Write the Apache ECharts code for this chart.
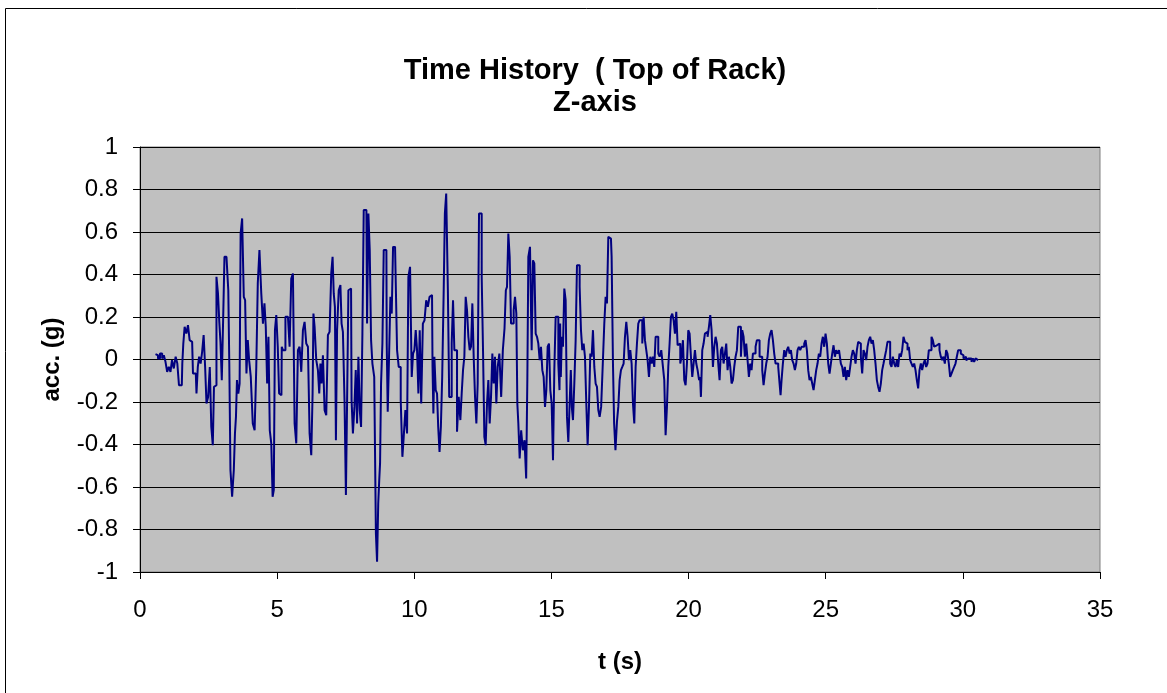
<!DOCTYPE html>
<html>
<head>
<meta charset="utf-8">
<script src="https://cdn.jsdelivr.net/npm/echarts@6/dist/echarts.min.js"></script>
<style>
html,body{margin:0;padding:0;background:#fff;}
#chart{width:1167px;height:693px;}
</style>
</head>
<body>
<div id="chart"></div>
<script>
// Time history readings [t (s), acc (g)]
var seg0to5 = [
[0.565,0.025],[0.625,0.020],[0.686,0.005],[0.771,0.028],[0.844,0.005],[0.893,0.020],[0.966,-0.011],[1.014,-0.058],[1.087,-0.035],[1.136,-0.058],
[1.196,-0.003],[1.269,-0.042],[1.330,0.013],[1.391,-0.019],[1.451,-0.121],[1.524,-0.121],[1.561,-0.019],[1.597,0.075],[1.658,0.154],[1.719,0.122],
[1.779,0.162],[1.840,0.091],[1.901,0.083],[1.962,-0.066],[2.035,-0.066],[2.083,-0.160],[2.132,-0.035],[2.180,0.013],[2.241,-0.019],[2.290,0.036],
[2.350,0.115],[2.399,-0.035],[2.448,-0.207],[2.520,-0.176],[2.569,-0.035],[2.630,-0.317],[2.678,-0.403],[2.715,-0.129],[2.763,-0.121],[2.812,0.389],
[2.873,0.311],[2.909,0.177],[2.958,0.083],[3.006,-0.097],[3.055,0.185],[3.104,0.483],[3.201,0.483],[3.237,0.326],[3.274,-0.019],[3.322,-0.521],
[3.395,-0.646],[3.444,-0.521],[3.480,-0.348],[3.517,-0.270],[3.553,-0.097],[3.614,-0.160],[3.650,-0.113],[3.687,0.593],[3.760,0.664],[3.808,0.295],
[3.857,0.279],[3.905,-0.066],[3.954,0.091],[4.003,-0.003],[4.075,-0.082],[4.148,-0.301],[4.209,-0.333],[4.270,-0.035],[4.318,0.358],[4.391,0.515],
[4.452,0.311],[4.513,0.169],[4.561,0.264],[4.610,0.154],[4.659,-0.113],[4.707,0.107],[4.756,-0.333],[4.816,-0.395],[4.853,-0.646],[4.902,-0.615],
[4.938,0.138],[4.999,0.209],[5.047,0.060],[5.096,-0.160]
];
var seg5to10 = [
[5.156,-0.168],[5.181,0.060],[5.241,0.044],[5.363,0.201],[5.424,0.201],[5.484,0.060],[5.545,0.381],[5.606,0.405],[5.667,-0.301],[5.727,-0.395],
[5.788,0.044],[5.849,0.060],[5.910,-0.058],[5.970,0.138],[6.031,0.177],[6.092,0.075],[6.153,0.060],[6.213,-0.348],[6.274,-0.450],[6.311,-0.160],
[6.335,0.216],[6.396,0.154],[6.456,-0.003],[6.517,-0.050],[6.553,-0.160],[6.602,-0.019],[6.639,-0.113],[6.699,0.020],[6.760,-0.238],[6.821,-0.262],
[6.881,0.115],[6.942,0.130],[7.003,0.405],[7.039,0.483],[7.088,0.311],[7.124,0.248],[7.161,-0.380],[7.209,0.138],[7.282,0.326],[7.331,0.350],
[7.367,0.169],[7.428,0.130],[7.489,-0.207],[7.525,-0.638],[7.574,-0.207],[7.622,0.326],[7.695,0.334],[7.732,-0.191],[7.793,-0.348],[7.841,-0.223],
[7.890,-0.050],[7.938,-0.301],[7.987,0.013],[8.036,-0.238],[8.084,-0.317],[8.133,0.122],[8.181,0.703],[8.254,0.703],[8.303,0.169],[8.351,0.687],
[8.400,0.515],[8.449,0.091],[8.497,-0.019],[8.582,-0.082],[8.619,-0.819],[8.667,-0.952],[8.704,-0.678],[8.740,-0.568],[8.764,-0.489],[8.813,-0.113],
[8.862,0.075],[8.910,0.515],[8.983,0.515],[9.007,0.075],[9.056,-0.246],[9.105,0.013],[9.153,0.295],[9.202,0.216],[9.250,0.530],[9.348,0.530],
[9.396,0.044],[9.469,-0.035],[9.542,-0.191],[9.590,-0.458],[9.639,-0.364],[9.712,-0.238],[9.761,-0.348],[9.809,0.389],[9.882,0.436],[9.931,-0.082],
[9.979,0.028],[10.028,0.044],[10.076,0.138],[10.125,0.044],[10.174,-0.160]
];
var seg10to15 = [
[10.222,0.138],[10.283,-0.207],[10.343,0.169],[10.404,0.185],[10.465,0.279],[10.526,0.248],[10.586,0.295],[10.647,0.303],[10.684,-0.035],[10.708,-0.254],
[10.757,0.013],[10.805,-0.144],[10.854,-0.160],[10.890,-0.317],[10.951,-0.435],[10.987,-0.317],[11.048,-0.082],[11.097,0.326],[11.133,0.687],[11.194,0.781],
[11.255,0.326],[11.291,-0.176],[11.340,-0.176],[11.388,0.075],[11.437,0.279],[11.485,0.044],[11.534,0.044],[11.583,-0.340],[11.655,-0.176],[11.704,-0.285],
[11.753,-0.160],[11.801,-0.050],[11.850,0.013],[11.898,0.295],[11.947,0.232],[11.996,0.107],[12.044,0.044],[12.093,0.060],[12.141,0.264],[12.190,0.013],
[12.239,-0.176],[12.287,-0.301],[12.336,-0.113],[12.384,0.687],[12.433,0.687],[12.482,0.389],[12.530,0.044],[12.579,-0.364],[12.627,-0.403],[12.676,-0.207],
[12.724,-0.097],[12.773,-0.301],[12.822,-0.176],[12.870,0.028],[12.919,-0.113],[12.967,0.013],[13.016,-0.207],[13.065,-0.035],[13.138,0.028],[13.198,-0.176],
[13.259,0.044],[13.320,0.146],[13.356,0.326],[13.405,0.342],[13.453,0.593],[13.502,0.483],[13.551,0.169],[13.599,0.169],[13.648,0.232],[13.696,0.295],
[13.745,0.216],[13.769,-0.207],[13.818,-0.301],[13.866,-0.466],[13.927,-0.333],[13.988,-0.427],[14.049,-0.380],[14.109,-0.560],[14.134,-0.097],[14.182,0.483],
[14.255,0.530],[14.304,0.044],[14.352,0.467],[14.401,0.452],[14.450,0.122],[14.498,0.107],[14.547,0.075],[14.595,-0.003],[14.644,0.060],[14.692,-0.050],
[14.741,-0.082],[14.790,-0.223],[14.838,-0.144],[14.887,0.060],[14.935,0.075],[14.984,-0.144],[15.033,-0.207],[15.081,-0.474],[15.130,-0.050],[15.178,0.201],
[15.227,0.201],[15.276,-0.019],[15.312,-0.144]
];
var seg15to20 = [
[15.324,0.169],[15.360,-0.082],[15.397,0.107],[15.445,0.060],[15.494,0.334],[15.543,0.279],[15.591,-0.270],[15.640,-0.388],[15.688,-0.207],[15.725,-0.050],
[15.761,-0.223],[15.810,-0.285],[15.859,-0.113],[15.907,0.091],[15.956,0.444],[16.004,0.444],[16.053,0.342],[16.101,0.138],[16.150,0.044],[16.199,0.075],
[16.247,0.013],[16.296,-0.207],[16.344,-0.403],[16.393,-0.223],[16.442,0.028],[16.490,0.013],[16.539,0.138],[16.587,-0.035],[16.636,-0.113],[16.685,-0.129],
[16.733,-0.238],[16.782,-0.270],[16.843,-0.223],[16.903,-0.019],[16.952,0.169],[17.000,0.295],[17.049,0.264],[17.098,0.577],[17.170,0.569],[17.219,0.483],
[17.268,-0.019],[17.304,-0.301],[17.365,-0.427],[17.413,-0.293],[17.462,-0.223],[17.511,-0.097],[17.559,-0.050],[17.608,-0.035],[17.656,-0.019],[17.705,0.107],
[17.754,0.177],[17.802,0.107],[17.851,-0.003],[17.899,0.044],[17.948,-0.019],[17.997,-0.207],[18.045,-0.301],[18.094,-0.035],[18.142,0.075],[18.191,0.169],
[18.240,0.185],[18.288,0.185],[18.337,0.075],[18.385,0.201],[18.434,0.091],[18.482,0.044],[18.531,-0.003],[18.580,-0.082],[18.628,0.013],[18.677,-0.019],
[18.725,0.013],[18.774,-0.035],[18.823,0.107],[18.871,0.107],[18.920,0.028],[18.968,0.013],[19.041,0.044],[19.090,-0.035],[19.138,-0.097],[19.187,-0.356],
[19.236,-0.223],[19.284,-0.035],[19.333,0.075],[19.381,0.201],[19.430,0.216],[19.479,0.185],[19.527,0.122],[19.576,0.224],[19.624,0.067],[19.673,0.075],
[19.722,-0.019],[19.770,0.013],[19.819,0.091],[19.867,-0.097],[19.916,-0.121],[19.965,-0.019],[20.013,0.138],[20.062,0.122],[20.110,0.013],[20.159,-0.082],
[20.208,-0.019],[20.256,0.044],[20.305,-0.019],[20.353,-0.050],[20.414,-0.097]
];
var seg20to25 = [
[20.426,-0.082],[20.475,-0.176],[20.523,0.044],[20.572,0.075],[20.620,0.122],[20.669,0.130],[20.718,0.107],[20.766,0.154],[20.815,0.209],[20.863,0.138],
[20.912,-0.035],[20.961,0.060],[21.009,0.107],[21.058,0.075],[21.106,-0.019],[21.155,-0.097],[21.203,0.044],[21.252,0.060],[21.301,-0.019],[21.349,0.028],
[21.398,0.075],[21.446,-0.050],[21.495,0.013],[21.544,-0.035],[21.592,-0.113],[21.641,-0.097],[21.689,-0.035],[21.738,0.013],[21.787,0.044],[21.835,0.154],
[21.884,0.154],[21.932,0.013],[21.981,0.138],[22.030,0.107],[22.078,0.013],[22.127,0.075],[22.175,-0.003],[22.224,-0.082],[22.272,-0.019],[22.321,-0.050],
[22.370,0.028],[22.418,0.028],[22.467,0.060],[22.515,0.091],[22.564,0.091],[22.613,0.013],[22.661,0.013],[22.710,-0.050],[22.758,-0.121],[22.807,-0.066],
[22.856,-0.019],[22.904,0.013],[22.953,0.091],[23.001,0.122],[23.050,0.138],[23.099,0.091],[23.147,0.028],[23.196,-0.019],[23.244,-0.019],[23.293,-0.035],
[23.342,-0.113],[23.366,-0.168],[23.414,-0.097],[23.463,-0.019],[23.512,0.044],[23.560,0.013],[23.609,0.044],[23.657,0.060],[23.706,0.028],[23.755,0.044],
[23.803,-0.003],[23.852,-0.019],[23.900,-0.050],[23.949,-0.019],[23.997,0.044],[24.046,0.060],[24.095,0.044],[24.143,0.060],[24.192,0.060],[24.240,0.075],
[24.289,0.091],[24.338,0.044],[24.386,-0.050],[24.435,-0.097],[24.483,-0.082],[24.532,-0.113],[24.581,-0.144],[24.629,-0.097],[24.678,-0.050],[24.726,-0.019],
[24.775,0.028],[24.824,0.013],[24.872,0.075],[24.921,0.107],[24.969,0.060],[25.018,0.122],[25.067,0.075],[25.115,-0.019],[25.164,-0.066],[25.212,-0.019],
[25.261,0.028],[25.310,0.067],[25.358,0.013],[25.407,0.044],[25.455,0.028],[25.516,0.044]
];
var seg25to31 = [
[25.528,0.044],[25.577,-0.019],[25.625,-0.035],[25.674,-0.082],[25.722,-0.035],[25.771,-0.097],[25.820,-0.050],[25.868,-0.082],[25.917,-0.035],[25.965,0.013],
[26.014,0.044],[26.063,0.028],[26.111,-0.019],[26.160,0.044],[26.208,0.083],[26.257,0.075],[26.305,0.013],[26.354,-0.066],[26.403,0.044],[26.451,0.028],
[26.500,-0.003],[26.548,0.060],[26.597,0.091],[26.646,0.107],[26.694,0.075],[26.743,0.091],[26.791,0.044],[26.840,-0.019],[26.889,-0.097],[26.937,-0.129],
[26.986,-0.152],[27.034,-0.113],[27.083,-0.050],[27.132,-0.019],[27.180,0.013],[27.229,0.044],[27.277,0.083],[27.326,0.083],[27.374,-0.019],[27.423,-0.035],
[27.472,0.013],[27.520,-0.019],[27.569,-0.035],[27.617,-0.003],[27.666,-0.035],[27.715,0.028],[27.763,0.013],[27.812,0.044],[27.860,0.107],[27.909,0.083],
[27.958,0.075],[28.006,0.044],[28.055,0.060],[28.103,-0.003],[28.152,-0.019],[28.201,-0.035],[28.249,-0.019],[28.298,-0.050],[28.346,-0.097],[28.395,-0.136],
[28.444,-0.050],[28.492,-0.019],[28.541,-0.050],[28.589,-0.019],[28.638,-0.003],[28.686,-0.035],[28.735,-0.019],[28.784,0.044],[28.832,0.044],[28.881,0.107],
[28.929,0.091],[28.978,0.060],[29.027,0.067],[29.075,0.060],[29.124,0.075],[29.172,0.044],[29.221,0.013],[29.270,-0.003],[29.318,0.013],[29.367,-0.019],
[29.415,0.044],[29.464,0.028],[29.513,-0.019],[29.561,-0.082],[29.610,-0.066],[29.658,-0.050],[29.707,-0.035],[29.756,-0.019],[29.804,0.013],[29.853,0.044],
[29.901,0.044],[29.950,0.028],[29.999,0.020],[30.047,0.005],[30.096,0.013],[30.144,-0.003],[30.193,0.005],[30.242,-0.003],[30.290,0.005],[30.339,-0.011],
[30.387,0.005],[30.436,-0.011],[30.484,0.005],[30.533,-0.003],[30.582,-0.003]
];
var xTicks = {min: 0, max: 35, interval: 5};
var yTicks = {min: -1, max: 1, interval: 0.2};

var series = seg0to5.concat(seg5to10, seg10to15, seg15to20, seg20to25, seg25to31);

var FONT = '"Liberation Sans", Arial, sans-serif';
var chart = echarts.init(document.getElementById('chart'), null, {renderer: 'canvas'});
chart.setOption({
  animation: false,
  backgroundColor: '#ffffff',
  title: {
    text: 'Time History  ( Top of Rack)\nZ-axis',
    left: 590, top: 50, textAlign: 'center',
    textStyle: {fontFamily: FONT, fontSize: 29, fontWeight: 'bold', color: '#000', lineHeight: 32}
  },
  graphic: [{
    type: 'rect', silent: true, z: -1,
    shape: {x: 5.5, y: 8.5, width: 1180, height: 700},
    style: {fill: 'none', stroke: '#000', lineWidth: 1}
  }],
  grid: {
    left: 140, top: 147, width: 960, height: 425,
    show: true, backgroundColor: '#c0c0c0', borderColor: '#808080', borderWidth: 1
  },
  xAxis: {
    type: 'value', min: xTicks.min, max: xTicks.max, interval: xTicks.interval,
    name: 't (s)', nameLocation: 'middle', nameGap: 78,
    nameTextStyle: {fontFamily: FONT, fontSize: 24, fontWeight: 'bold', color: '#000'},
    axisLine: {show: true, onZero: false, lineStyle: {color: '#000', width: 1}},
    axisTick: {show: true, inside: false, length: 7, lineStyle: {color: '#000'}},
    axisLabel: {fontFamily: FONT, fontSize: 24, color: '#000', margin: 26},
    splitLine: {show: false}
  },
  yAxis: {
    type: 'value', min: yTicks.min, max: yTicks.max, interval: yTicks.interval,
    name: 'acc. (g)', nameLocation: 'middle', nameGap: 76, nameRotate: 90,
    nameTextStyle: {fontFamily: FONT, fontSize: 24, fontWeight: 'bold', color: '#000'},
    axisLine: {show: true, onZero: false, lineStyle: {color: '#000', width: 1}},
    axisTick: {show: true, inside: false, length: 7, lineStyle: {color: '#000'}},
    axisLabel: {fontFamily: FONT, fontSize: 24, color: '#000', margin: 22,
      formatter: function (v) { return String(+v.toFixed(1)); }},
    splitLine: {show: true, lineStyle: {color: '#000', width: 1}}
  },
  series: [{
    type: 'line', data: series, showSymbol: false, symbol: 'none', step: 'middle',
    lineStyle: {color: '#000080', width: 2}, z: 3
  }]
});
</script>
</body>
</html>
